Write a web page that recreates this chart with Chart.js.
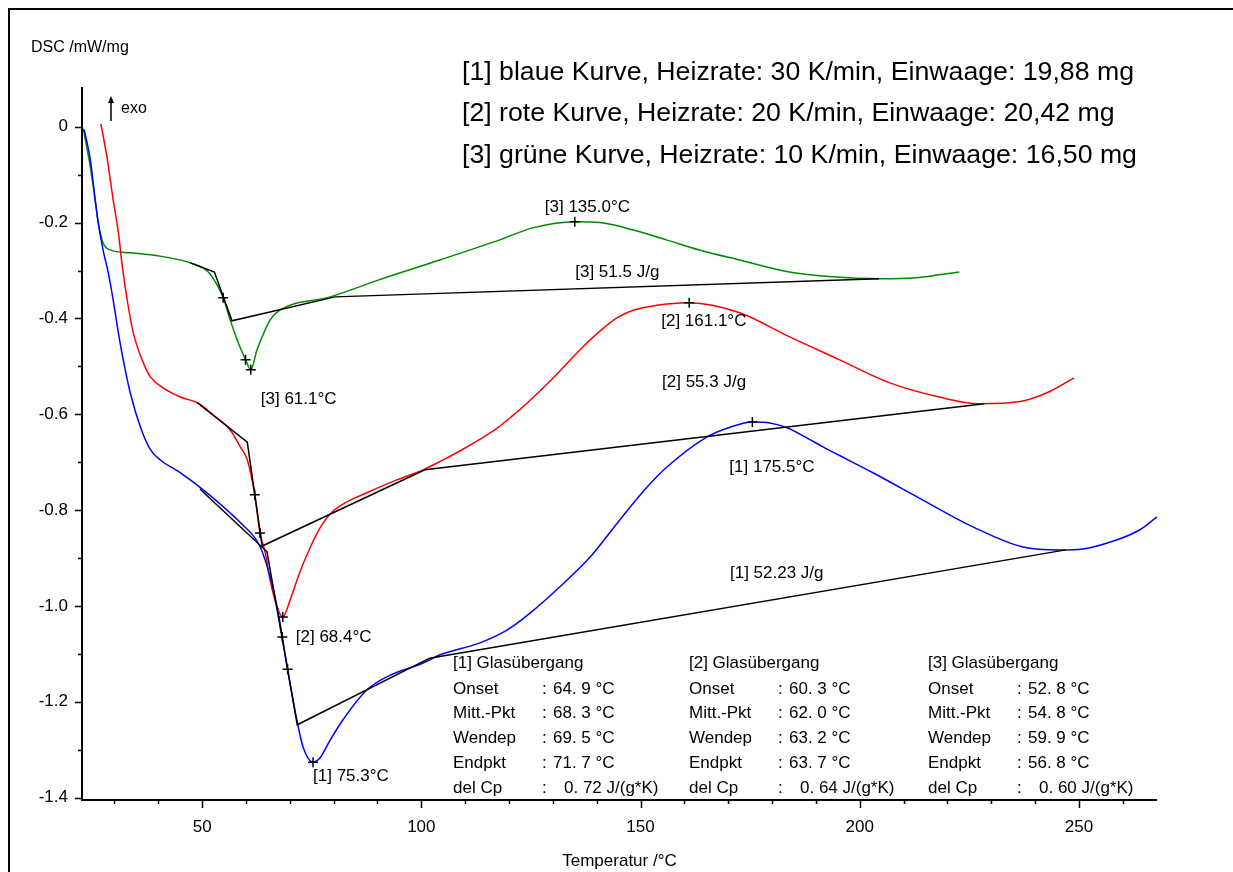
<!DOCTYPE html>
<html>
<head>
<meta charset="utf-8">
<title>DSC Glasübergang</title>
<script src="https://cdn.jsdelivr.net/npm/chart.js@4.4.1/dist/chart.umd.min.js"></script>
<style>
  html, body { margin: 0; padding: 0; background: #fff; }
  canvas { display: block; }
</style>
</head>
<body>
<canvas id="dscChart" width="1233" height="872"></canvas>
<script>
// [1] blue, 30 K/min
const tempBlue = [23.1, 24.5, 25.6, 26.3, 27.4, 28.6, 29.7, 30.9, 32.0, 33.6, 35.9, 38.2, 40.4, 45.0, 51.1, 56.4, 58.7, 63.2, 65.5, 67.1, 68.3, 69.5, 71.6, 73.0, 74.2, 75.3, 76.9, 79.2, 82.1, 87.6, 92.1, 100.4, 104.3, 113.4, 119.6, 124.8, 131.6, 138.5, 145.3, 151.5, 156.0, 165.2, 170.4, 175.5, 179.5, 183.4, 187.5, 191.6, 197.3, 203.0, 214.4, 225.8, 237.2, 245.7, 250.9, 258.7, 263.9, 267.8];
const dscBlue = [-0.006, -0.069, -0.152, -0.200, -0.257, -0.305, -0.361, -0.430, -0.486, -0.555, -0.626, -0.674, -0.695, -0.722, -0.764, -0.806, -0.826, -0.876, -0.939, -1.002, -1.065, -1.132, -1.238, -1.294, -1.318, -1.326, -1.317, -1.280, -1.238, -1.175, -1.148, -1.119, -1.102, -1.077, -1.050, -1.015, -0.960, -0.898, -0.820, -0.752, -0.710, -0.647, -0.627, -0.616, -0.618, -0.628, -0.647, -0.668, -0.695, -0.722, -0.779, -0.835, -0.877, -0.883, -0.881, -0.862, -0.841, -0.814];

// [2] red, 20 K/min
const tempRed = [26.9, 28.4, 29.7, 30.9, 31.8, 32.9, 34.3, 36.3, 38.2, 41.1, 45.0, 48.9, 52.5, 56.4, 58.7, 60.3, 62.0, 63.2, 64.4, 65.5, 67.1, 68.4, 70.1, 72.3, 74.6, 76.9, 79.2, 82.6, 86.0, 94.4, 100.4, 105.0, 109.5, 113.4, 117.3, 120.7, 124.1, 127.1, 130.0, 133.2, 136.9, 140.8, 144.6, 148.3, 152.2, 156.0, 161.1, 172.6, 183.9, 195.3, 206.7, 218.1, 227.2, 236.3, 243.2, 248.9];
const dscRed = [0.006, -0.069, -0.152, -0.221, -0.292, -0.361, -0.430, -0.486, -0.522, -0.545, -0.564, -0.576, -0.601, -0.633, -0.668, -0.695, -0.768, -0.848, -0.889, -0.946, -1.002, -1.023, -0.987, -0.929, -0.879, -0.837, -0.808, -0.785, -0.770, -0.737, -0.716, -0.695, -0.673, -0.652, -0.629, -0.604, -0.577, -0.551, -0.525, -0.494, -0.459, -0.426, -0.399, -0.383, -0.375, -0.370, -0.367, -0.388, -0.438, -0.486, -0.534, -0.564, -0.578, -0.574, -0.553, -0.524];

// [3] green, 10 K/min
const tempGreen = [22.9, 24.5, 25.6, 26.3, 27.4, 29.0, 33.6, 41.1, 47.3, 51.4, 53.4, 54.8, 56.4, 58.0, 59.9, 61.1, 62.5, 63.9, 65.5, 67.8, 79.2, 90.5, 104.2, 117.9, 125.4, 135.0, 140.7, 148.2, 155.9, 163.4, 172.6, 183.9, 193.7, 204.4, 212.9, 218.1, 222.7];
const dscGreen = [-0.004, -0.084, -0.152, -0.200, -0.242, -0.257, -0.263, -0.271, -0.284, -0.303, -0.330, -0.357, -0.403, -0.445, -0.486, -0.507, -0.466, -0.434, -0.403, -0.382, -0.355, -0.319, -0.278, -0.236, -0.211, -0.198, -0.200, -0.215, -0.236, -0.257, -0.278, -0.303, -0.313, -0.317, -0.315, -0.309, -0.303];

// tangent / baseline constructions (black)
const constrBlueT = [49.5, 64.8, 71.7, 101.9, 247.0];
const constrBlueV = [-0.756, -0.887, -1.248, -1.109, -0.883];
const constrRedT = [48.9, 60.3, 63.7, 100.8, 228.4];
const constrRedV = [-0.576, -0.658, -0.875, -0.716, -0.578];
const constrGreenT = [47.3, 52.8, 56.8, 80.3, 204.4];
const constrGreenV = [-0.284, -0.303, -0.405, -0.355, -0.317];

// glass transition results, order [1], [2], [3]
const onsetT = [64.9, 60.3, 52.8];
const midT = [68.3, 62.0, 54.8];
const midV = [-1.065, -0.768, -0.357];
const inflT = [69.5, 63.2, 59.9];
const inflV = [-1.132, -0.848, -0.486];
const endT = [71.7, 63.7, 56.8];
const delCp = [0.72, 0.64, 0.60];

// endo minima and exo maxima
const minT = [75.3, 68.4, 61.1];
const minV = [-1.326, -1.023, -0.507];
const maxT = [175.5, 161.1, 135.0];
const maxV = [-0.616, -0.367, -0.198];
const enthalpy = [52.23, 55.3, 51.5];
const enthalpyT = [170.4, 154.9, 135.1];
const enthalpyV = [-0.931, -0.534, -0.303];

// runs
const curveNames = ['blaue', 'rote', 'grüne'];
const heatRate = [30, 20, 10];
const sampleMass = [19.88, 20.42, 16.50];

// axis ticks
const xTickLabels = [50, 100, 150, 200, 250];
const xMinorTicks = [30, 40, 50, 60, 70, 80, 90, 100, 110, 120, 130, 140, 150, 160, 170, 180, 190, 200, 210, 220, 230, 240, 250, 260];
const yTickLabels = [0, -0.2, -0.4, -0.6, -0.8, -1.0, -1.2, -1.4];
const yMinorTicks = [0, -0.1, -0.2, -0.3, -0.4, -0.5, -0.6, -0.7, -0.8, -0.9, -1.0, -1.1, -1.2, -1.3, -1.4];

const FONT = '"Liberation Sans", Arial, sans-serif';
const colors = ['#0000ff', '#ff0000', '#008a00'];

const pts = (t, v) => t.map((x, i) => ({ x: x, y: v[i] }));

function curve(t, v, color) {
    return {
        data: pts(t, v),
        borderColor: color,
        borderWidth: 1.5,
        pointRadius: 0,
        cubicInterpolationMode: 'monotone',
        order: 2
    };
}

function construction(t, v) {
    return {
        data: pts(t, v),
        borderColor: '#000',
        borderWidth: 1.5,
        pointRadius: 0,
        tension: 0,
        order: 1
    };
}

const markerData = [];
for (let i = 0; i < 3; i++) {
    markerData.push({ x: midT[i], y: midV[i] });
    markerData.push({ x: inflT[i], y: inflV[i] });
    markerData.push({ x: minT[i], y: minV[i] });
    markerData.push({ x: maxT[i], y: maxV[i] });
}

// label offsets from the peak marker (px)
const minLabelOffset = [[0, 14], [13, 20], [10, 30]];
const maxLabelOffset = [[-23, 45], [-28, 19], [-30, -14]];

function txt(c, s, x, y, size, align) {
    c.font = size + 'px ' + FONT;
    c.textAlign = align || 'left';
    c.textBaseline = 'middle';
    c.fillText(s, x, y);
}

const deg = v => v.toFixed(1).replace('.', '. ') + ' \u00b0C';

const decorations = {
    id: 'decorations',
    beforeDraw(chart) {
        const c = chart.ctx;
        c.save();
        c.fillStyle = '#fff';
        c.fillRect(0, 0, chart.width, chart.height);
        c.restore();
    },
    afterDraw(chart) {
        const c = chart.ctx;
        const xs = chart.scales.x;
        const ys = chart.scales.y;
        const a = chart.chartArea;
        c.save();
        c.strokeStyle = '#000';
        c.fillStyle = '#000';

        // outer frame
        c.lineWidth = 2;
        c.beginPath();
        c.moveTo(9, chart.height);
        c.lineTo(9, 9);
        c.lineTo(chart.width, 9);
        c.stroke();

        // axis lines
        c.beginPath();
        c.moveTo(a.left, a.top);
        c.lineTo(a.left, a.bottom);
        c.lineTo(a.right, a.bottom);
        c.stroke();

        // tick marks
        c.lineWidth = 1.5;
        c.beginPath();
        xMinorTicks.forEach(t => {
            const px = Math.round(xs.getPixelForValue(t)) + 0.5;
            const len = xTickLabels.includes(t) ? 8 : 4;
            c.moveTo(px, a.bottom);
            c.lineTo(px, a.bottom + len);
        });
        yMinorTicks.forEach(v => {
            const py = Math.round(ys.getPixelForValue(v)) + 0.5;
            const major = yTickLabels.some(l => Math.abs(l - v) < 1e-6);
            c.moveTo(a.left, py);
            c.lineTo(a.left - (major ? 7 : 4), py);
        });
        c.stroke();

        // y axis title and exo arrow
        txt(c, 'DSC /mW/mg', 31, 48, 16);
        c.lineWidth = 1.5;
        c.beginPath();
        c.moveTo(111, 121);
        c.lineTo(111, 100);
        c.stroke();
        c.beginPath();
        c.moveTo(111, 96);
        c.lineTo(108, 103);
        c.lineTo(114, 103);
        c.closePath();
        c.fill();
        txt(c, 'exo', 121, 109, 16);

        // peak labels
        for (let i = 0; i < 3; i++) {
            const n = '[' + (i + 1) + '] ';
            const mx = xs.getPixelForValue(minT[i]);
            const my = ys.getPixelForValue(minV[i]);
            txt(c, n + minT[i].toFixed(1) + '\u00b0C', mx + minLabelOffset[i][0], my + minLabelOffset[i][1], 17);
            const px = xs.getPixelForValue(maxT[i]);
            const py = ys.getPixelForValue(maxV[i]);
            txt(c, n + maxT[i].toFixed(1) + '\u00b0C', px + maxLabelOffset[i][0], py + maxLabelOffset[i][1], 17);
            txt(c, n + String(enthalpy[i]) + ' J/g', xs.getPixelForValue(enthalpyT[i]), ys.getPixelForValue(enthalpyV[i]), 17);
        }

        // run legend
        const legendY = [73, 114, 156];
        for (let i = 0; i < 3; i++) {
            const s = '[' + (i + 1) + '] ' + curveNames[i] + ' Kurve, Heizrate: ' + heatRate[i] +
                ' K/min, Einwaage: ' + sampleMass[i].toFixed(2).replace('.', ',') + ' mg';
            txt(c, s, 462, legendY[i], 26.7);
        }

        // glass transition tables
        const colX = [453, 689, 928];
        const colonX = [542, 778, 1017];
        const rowY = [663, 689, 713, 738, 763, 788];
        for (let i = 0; i < 3; i++) {
            const x = colX[i], cx = colonX[i];
            txt(c, '[' + (i + 1) + '] Glas\u00fcbergang', x, rowY[0], 17);
            const rows = [['Onset', onsetT[i]], ['Mitt.-Pkt', midT[i]], ['Wendep', inflT[i]], ['Endpkt', endT[i]]];
            rows.forEach((r, k) => {
                txt(c, r[0], x, rowY[k + 1], 17);
                txt(c, ':', cx, rowY[k + 1], 17);
                txt(c, deg(r[1]), cx + 11, rowY[k + 1], 17);
            });
            txt(c, 'del Cp', x, rowY[5], 17);
            txt(c, ':', cx, rowY[5], 17);
            txt(c, delCp[i].toFixed(2).replace('.', '. ') + ' J/(g*K)', cx + 22, rowY[5], 17);
        }
        c.restore();
    }
};

const ctx = document.getElementById('dscChart');

new Chart(ctx, {
    type: 'line',
    data: {
        datasets: [
            {
                data: markerData,
                showLine: false,
                pointStyle: 'cross',
                pointRadius: 5,
                pointBorderWidth: 1.5,
                pointBorderColor: '#000',
                borderColor: '#000',
                order: 0
            },
            construction(constrBlueT, constrBlueV),
            construction(constrRedT, constrRedV),
            construction(constrGreenT, constrGreenV),
            curve(tempBlue, dscBlue, colors[0]),
            curve(tempRed, dscRed, colors[1]),
            curve(tempGreen, dscGreen, colors[2])
        ]
    },
    options: {
        responsive: false,
        animation: false,
        devicePixelRatio: 1,
        layout: { padding: { left: 0, right: 76, top: 87, bottom: 0 } },
        plugins: {
            legend: { display: false },
            tooltip: { enabled: false }
        },
        scales: {
            x: {
                type: 'linear',
                min: 22.6,
                max: 267.8,
                afterFit: s => { s.height = 72; },
                afterBuildTicks: s => { s.ticks = xTickLabels.map(v => ({ value: v })); },
                grid: { display: false, drawTicks: false },
                border: { display: false },
                ticks: {
                    color: '#000',
                    padding: 17,
                    maxRotation: 0,
                    autoSkip: false,
                    font: { size: 17, family: FONT },
                    callback: v => String(v)
                },
                title: {
                    display: true,
                    text: 'Temperatur /\u00b0C',
                    color: '#000',
                    padding: 0,
                    font: { size: 17, family: FONT }
                }
            },
            y: {
                type: 'linear',
                min: -1.405,
                max: 0.083,
                afterFit: s => { s.width = 82; },
                afterBuildTicks: s => { s.ticks = yTickLabels.map(v => ({ value: v })); },
                grid: { display: false, drawTicks: false },
                border: { display: false },
                ticks: {
                    color: '#000',
                    padding: 14,
                    autoSkip: false,
                    font: { size: 17, family: FONT },
                    callback: v => (v === 0 ? '0' : v.toFixed(1))
                }
            }
        }
    },
    plugins: [decorations]
});
</script>
</body>
</html>
